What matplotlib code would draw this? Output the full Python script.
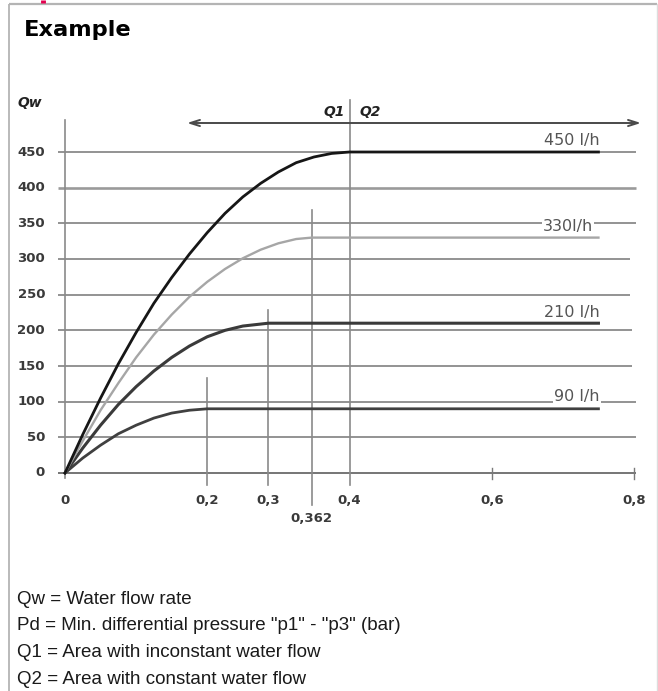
import matplotlib
matplotlib.use("Agg")
import matplotlib.pyplot as plt
from matplotlib import font_manager as fm

# ---------------- data ----------------
grid_values = [0, 50, 100, 150, 200, 250, 300, 350, 400, 450]
y_tick_labels = ["0", "50", "100", "150", "200", "250", "300", "350", "400", "450"]

x_tick_pos = [0.0, 0.2, 0.6, 0.8]
x_tick_labels = ["0", "0,2", "0,6", "0,8"]

# Pd markers (drawn positions in the picture are not exactly to scale)
marker_labels = ["0,2", "0,3", "0,362", "0,4"]
marker_pos = [0.2, 0.286, 0.347, 0.4]

curve_labels = ["450 l/h", "330l/h", "210 l/h", "90 l/h"]

c450_x = [0, 0.025, 0.05, 0.075, 0.1, 0.125, 0.15, 0.175, 0.2, 0.225, 0.25, 0.275, 0.3, 0.325, 0.35, 0.375, 0.4, 0.75]
c450_y = [0, 54, 105, 153, 197, 238, 274, 307, 337, 364, 387, 406, 422, 435, 443, 448, 450, 450]

c330_x = [0, 0.025, 0.05, 0.075, 0.1, 0.125, 0.15, 0.175, 0.2, 0.225, 0.25, 0.275, 0.3, 0.325, 0.347, 0.75]
c330_y = [0, 45, 88, 126, 162, 194, 222, 247, 268, 286, 301, 313, 322, 328, 330, 330]

c210_x = [0, 0.025, 0.05, 0.075, 0.1, 0.125, 0.15, 0.175, 0.2, 0.225, 0.25, 0.286, 0.75]
c210_y = [0, 35, 67, 96, 121, 143, 162, 178, 191, 200, 206, 210, 210]

c90_x = [0, 0.025, 0.05, 0.075, 0.1, 0.125, 0.15, 0.175, 0.2, 0.75]
c90_y = [0, 21, 39, 55, 67, 77, 84, 88, 90, 90]

# ---------------- layout helpers ----------------
W, H = 658, 691
X0PX, X1PX = 65.0, 634.0     # pixel of x=0 and x=0.8
Y0PX, Y1PX = 473.0, 152.0    # pixel of y=0 and y=450
sx = (X1PX - X0PX) / 0.8
sy = (Y0PX - Y1PX) / 450.0


def dx(p):
    return (p - X0PX) / sx


def dy(p):
    return (Y0PX - p) / sy


names = {f.name for f in fm.fontManager.ttflist}
narrow = "Liberation Sans Narrow" if "Liberation Sans Narrow" in names else "Liberation Sans"

fig = plt.figure(figsize=(W / 100, H / 100), dpi=100)
fig.patch.set_facecolor("white")
ax = fig.add_axes([0, 0, 1, 1])
ax.set_xlim(dx(0), dx(W))
ax.set_ylim(dy(H), dy(0))
ax.axis("off")

# frame of the box
border = "#b4b4b4"
ax.plot([dx(9), dx(9)], [dy(4), dy(H + 5)], color=border, lw=1.3, solid_capstyle="butt")
ax.plot([dx(9), dx(657)], [dy(4), dy(4)], color=border, lw=1.6, solid_capstyle="butt")
ax.plot([dx(657), dx(657)], [dy(4), dy(H + 5)], color="#dddddd", lw=1.0)
ax.plot([dx(42.5), dx(42.5)], [dy(0), dy(3.5)], color="#e4004f", lw=3.5, solid_capstyle="butt")

# title
fig.text(24 / W, 1 - 30 / H, "Example", fontsize=16.2, fontweight="bold",
         family="DejaVu Sans", va="center", ha="left", color="black")

# gridlines
grid_ends = {0: 636, 50: 636, 100: 636, 150: 632, 200: 632, 250: 630, 300: 630, 350: 636, 400: 636, 450: 636}
for v in grid_values:
    lw = 1.9 if v == 400 else 1.2
    col = "#9a9a9a" if v == 400 else "#808080"
    if v == 0:
        col, lw = "#6a6a6a", 1.3
    ax.plot([dx(58), dx(grid_ends[v])], [v, v], color=col, lw=lw, solid_capstyle="butt", zorder=1)

# y axis
ax.plot([0, 0], [dy(478), dy(120)], color="#8a8a8a", lw=1.2, zorder=1)
# small ticks on x axis
for xt in [0.6, 0.8]:
    ax.plot([xt, xt], [dy(468), dy(479)], color="#7a7a7a", lw=1.0, zorder=1)

# marker vertical lines
marker_tops = [378, 310, 210, 100]
marker_bottoms = [485, 485, 505, 485]
for xp, t, b in zip(marker_pos, marker_tops, marker_bottoms):
    ax.plot([xp, xp], [dy(b), dy(t)], color="#8a8a8a", lw=1.2, zorder=1)

# curves
ax.plot(c90_x, c90_y, color="#404040", lw=2.0, zorder=3, solid_joinstyle="round")
ax.plot(c210_x, c210_y, color="#3a3a3a", lw=2.2, zorder=3, solid_joinstyle="round")
ax.plot(c330_x, c330_y, color="#a6a6a6", lw=1.7, zorder=3, solid_joinstyle="round")
ax.plot(c450_x, c450_y, color="#161616", lw=2.0, zorder=4, solid_joinstyle="round")

# curve labels
lab_font = dict(fontsize=11.5, color="#555555", family="DejaVu Sans", ha="center", va="center", zorder=5)
ax.text(dx(572), dy(140), curve_labels[0], **lab_font)
ax.text(dx(568), dy(226), curve_labels[1],
        bbox=dict(boxstyle="square,pad=0.05", fc="white", ec="none"), **lab_font)
ax.text(dx(572), dy(312), curve_labels[2], **lab_font)
ax.text(dx(577), dy(397), curve_labels[3],
        bbox=dict(boxstyle="square,pad=0.05", fc="white", ec="none"), **lab_font)

# Q1/Q2 arrow
ax.annotate("", xy=(dx(641), dy(123)), xytext=(dx(187), dy(123)),
            arrowprops=dict(arrowstyle="<->,head_length=0.7,head_width=0.22",
                            color="#4a4a4a", lw=1.4, shrinkA=0, shrinkB=0))
qfont = dict(fontsize=10, fontweight="bold", style="italic", family="DejaVu Sans",
             color="#222222", va="center")
ax.text(dx(345), dy(112), "Q1", ha="right", **qfont)
ax.text(dx(359), dy(112), "Q2", ha="left", **qfont)
ax.text(dx(17), dy(103), "Qw", ha="left", **qfont)

# tick labels
tfont = dict(fontsize=9.5, fontweight="bold", family="DejaVu Sans", color="#3a3a3a", va="center")
for v, lab in zip(grid_values, y_tick_labels):
    ax.text(dx(45), v, lab, ha="right", **tfont)
for xp, lab in zip(x_tick_pos, x_tick_labels):
    ax.text(xp, dy(500), lab, ha="center", **tfont)
for i, (xp, lab) in enumerate(zip(marker_pos, marker_labels)):
    if lab == "0,2":
        continue
    yy = 518 if lab == "0,362" else 500
    ax.text(xp, dy(yy), lab, ha="center", **tfont)

# footnotes
notes = [
    "Qw = Water flow rate",
    "Pd = Min. differential pressure \"p1\" - \"p3\" (bar)",
    "Q1 = Area with inconstant water flow",
    "Q2 = Area with constant water flow",
]
for i, t in enumerate(notes):
    fig.text(17 / W, 1 - (599 + 26.8 * i) / H, t, fontsize=13.5, family=narrow,
             color="#1a1a1a", va="center", ha="left")

fig.savefig("out.png", dpi=100, facecolor="white")
